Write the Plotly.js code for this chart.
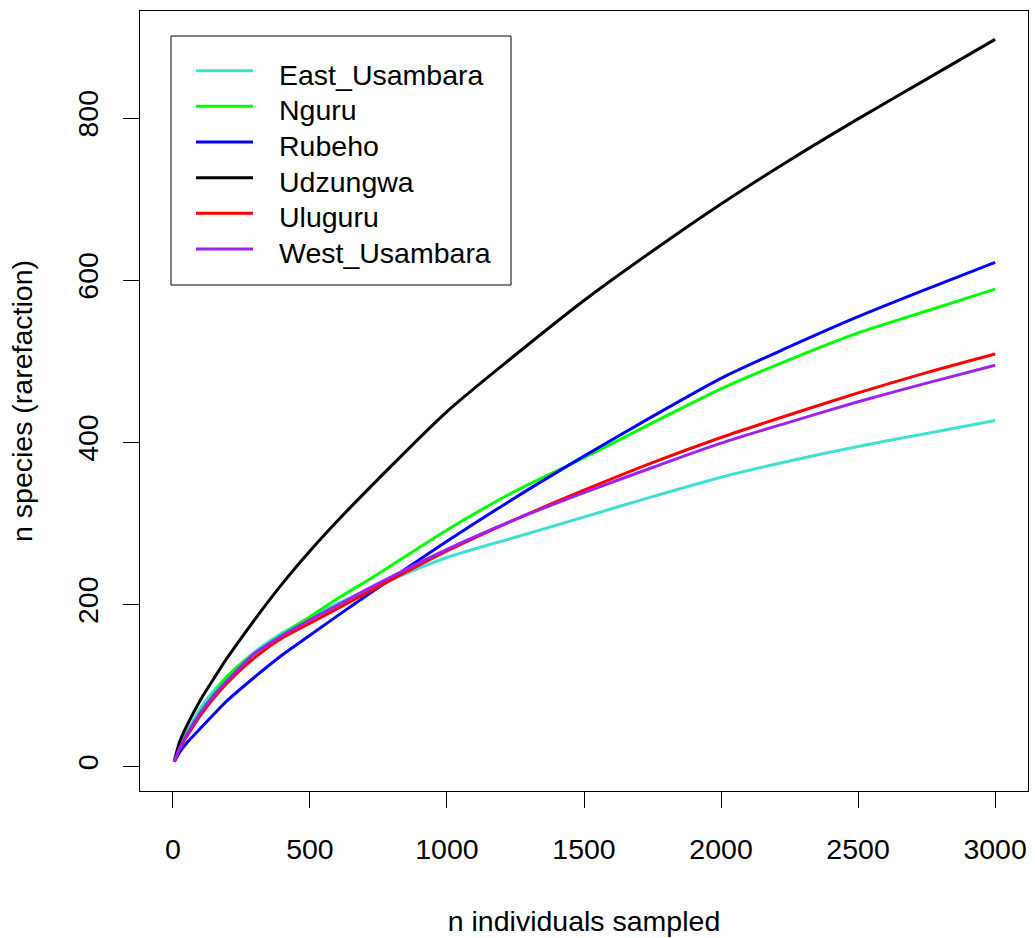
<!DOCTYPE html>
<html>
<head>
<meta charset="utf-8">
<script src="https://cdn.plot.ly/plotly-3.0.1.min.js"></script>
<style>
html, body { margin: 0; padding: 0; background: #ffffff; }
#chart { width: 1035px; height: 938px; }
</style>
</head>
<body>
<div id="chart"></div>
<script>
// n individuals sampled (sample points)
const individuals = [5, 25, 50, 100, 150, 200, 300, 400, 500, 600, 750, 1000, 1250, 1500, 1750, 2000, 2250, 2500, 2750, 3000];

// n species (rarefaction) per mountain block
const eastUsambara = [7, 25, 42, 72, 94, 112, 142, 165, 184, 201, 224, 258, 283, 308, 333, 357, 377, 395, 411, 427];
const nguru        = [7, 24, 40, 67, 90, 112, 140, 163, 185, 207, 238, 292, 340, 381, 424, 466, 502, 535, 562, 589];
const rubeho       = [6, 18, 29, 47, 65, 82, 111, 138, 162, 186, 221, 278, 332, 383, 432, 479, 518, 555, 589, 622];
const udzungwa     = [7, 31, 50, 82, 109, 135, 182, 226, 266, 303, 355, 438, 508, 575, 636, 694, 748, 799, 848, 897];
const uluguru      = [6, 22, 37, 63, 85, 104, 135, 159, 177, 195, 222, 266, 305, 341, 375, 406, 434, 461, 486, 509];
const westUsambara = [7, 23, 39, 66, 88, 107, 140, 162, 181, 199, 226, 268, 305, 338, 369, 399, 425, 450, 473, 495];

const seriesNames  = ["East_Usambara", "Nguru", "Rubeho", "Udzungwa", "Uluguru", "West_Usambara"];
const seriesValues = [eastUsambara, nguru, rubeho, udzungwa, uluguru, westUsambara];
const seriesColors = ["#40E0D0", "#00FF00", "#0000FF", "#000000", "#FF0000", "#A020F0"];

const xTicks = [0, 500, 1000, 1500, 2000, 2500, 3000];
const yTicks = [0, 200, 400, 600, 800];

const FONT = "Liberation Sans, Arial, Helvetica, sans-serif";
const FS = 28.5;
const LW = 3;

const traces = seriesNames.map((name, i) => ({
  type: "scatter",
  mode: "lines",
  name: name,
  x: individuals,
  y: seriesValues[i],
  line: { color: seriesColors[i], width: LW, shape: "spline", smoothing: 0.8 },
  showlegend: false
}));

const W = 1035, H = 938;
const mL = 140, mR = 7, mT = 11, mB = 147;
const pw = W - mL - mR, ph = H - mT - mB;
function px2paperX(p) { return (p - mL) / pw; }
function px2paperY(p) { return (H - mB - p) / ph; }

// legend box drawn R-style (box, line samples, labels)
const legBox = { left: 171, right: 511, top: 36, bottom: 285 };
const legRow0 = 70.7, legRowGap = 35.65;
const legLineX0 = 196, legLineX1 = 253, legTextX = 277;

const shapes = [{
  type: "rect",
  xref: "paper", yref: "paper",
  x0: px2paperX(legBox.left), x1: px2paperX(legBox.right),
  y0: px2paperY(legBox.bottom), y1: px2paperY(legBox.top),
  line: { color: "#000000", width: 1 },
  fillcolor: "#ffffff",
  layer: "above"
}];
const annotations = [];
seriesNames.forEach((name, i) => {
  const yy = legRow0 + i * legRowGap;
  shapes.push({
    type: "line", xref: "paper", yref: "paper",
    x0: px2paperX(legLineX0), x1: px2paperX(legLineX1),
    y0: px2paperY(yy), y1: px2paperY(yy),
    line: { color: seriesColors[i], width: LW },
    layer: "above"
  });
  annotations.push({
    xref: "paper", yref: "paper",
    x: px2paperX(legTextX), y: px2paperY(yy + 4),
    xanchor: "left", yanchor: "middle",
    text: name, showarrow: false,
    font: { family: FONT, size: FS, color: "#000000" }
  });
});

const layout = {
  width: W,
  height: H,
  margin: { l: mL, r: mR, t: mT, b: mB, pad: 0 },
  paper_bgcolor: "#ffffff",
  plot_bgcolor: "#ffffff",
  font: { family: FONT, size: FS, color: "#000000" },
  showlegend: false,
  xaxis: {
    range: [-120, 3120],
    tickvals: xTicks,
    ticktext: xTicks.map(String),
    ticks: "outside",
    ticklen: 16,
    tickwidth: 1,
    tickcolor: "#000000",
    ticklabelstandoff: 17,
    showline: true,
    linecolor: "#000000",
    linewidth: 1,
    mirror: true,
    showgrid: false,
    zeroline: false,
    tickfont: { family: FONT, size: FS, color: "#000000" },
    title: { text: "n individuals sampled", font: { family: FONT, size: FS, color: "#000000" }, standoff: 46 }
  },
  yaxis: {
    range: [-30, 932],
    tickvals: yTicks,
    ticktext: yTicks.map(String),
    ticks: "outside",
    ticklen: 16,
    tickwidth: 1,
    tickcolor: "#000000",
    tickangle: -90,
    ticklabelstandoff: 14,
    showline: true,
    linecolor: "#000000",
    linewidth: 1,
    mirror: true,
    showgrid: false,
    zeroline: false,
    tickfont: { family: FONT, size: FS, color: "#000000" },
    title: { text: "n species (rarefaction)", font: { family: FONT, size: FS, color: "#000000" }, standoff: 30 }
  },
  shapes: shapes,
  annotations: annotations
};

Plotly.newPlot("chart", traces, layout, { displayModeBar: false, staticPlot: true });
</script>
</body>
</html>
